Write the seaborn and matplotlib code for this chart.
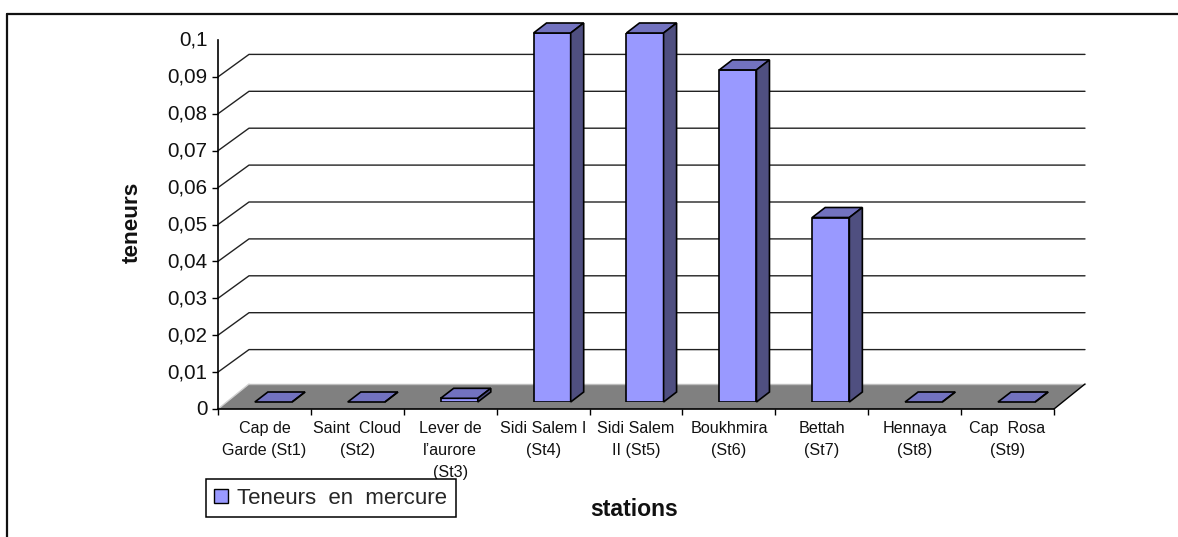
import numpy as np
import matplotlib
matplotlib.use("Agg")
import matplotlib.pyplot as plt
from matplotlib.patches import Patch, Polygon
from matplotlib.transforms import ScaledTranslation
import seaborn as sns

# Mercury content per sampling station
stations = ["Cap de\nGarde (St1)", "Saint  Cloud\n(St2)", "Lever de\nl\u2019aurore\n(St3)",
            "Sidi Salem I\n(St4)", "Sidi Salem\nII (St5)", "Boukhmira\n(St6)",
            "Bettah\n(St7)", "Hennaya\n(St8)", "Cap  Rosa\n(St9)"]
teneurs = [0, 0, 0.001, 0.1, 0.1, 0.09, 0.05, 0, 0]
y_ticks = [0, 0.01, 0.02, 0.03, 0.04, 0.05, 0.06, 0.07, 0.08, 0.09, 0.1]
y_labels = ["0", "0,01", "0,02", "0,03", "0,04", "0,05", "0,06", "0,07", "0,08", "0,09", "0,1"]

FRONT = "#9999FF"
TOP = "#7272BF"
SIDE = "#4F4F80"

W, H = 1178, 537
sns.set_style("white")
plt.rcParams["font.family"] = ["Liberation Sans", "DejaVu Sans"]
fig = plt.figure(figsize=(W / 100, H / 100), dpi=100, facecolor="white")


def pixel_axes(x0, x1, y_bottom, y_top, **kw):
    return fig.add_axes([x0 / W, 1 - y_bottom / H, (x1 - x0) / W, (y_bottom - y_top) / H], **kw)


# Pseudo-3D box: front plane, back wall shift, and per-unit vertical scale
fx0, fx1, fy0, fy1 = 218, 1054, 409, 40
wall_dx, wall_dy, floor_dy = 31, 22.5, 25
scale = (fy0 - fy1) / 0.1

canvas = pixel_axes(0, W, H, 0, zorder=0)
canvas.set_xlim(0, W)
canvas.set_ylim(H, 0)
canvas.axis("off")

# Outer frame: only the top and left edges are drawn
canvas.plot([7, W], [14, 14], color="#111111", lw=1.6, clip_on=False)
canvas.plot([7, 7], [14, H], color="#111111", lw=1.6, clip_on=False)

# Floor
canvas.add_patch(Polygon([(fx0, fy0), (fx0 + wall_dx, fy0 - floor_dy),
                          (fx1 + wall_dx, fy0 - floor_dy), (fx1, fy0)],
                         facecolor="#808080", edgecolor="none"))
canvas.plot([fx0 + wall_dx, fx1 + wall_dx], [fy0 - floor_dy] * 2, color="#BDBDBD", lw=1)
canvas.plot([fx0, fx0 + wall_dx], [fy0, fy0 - floor_dy], color="#D0D0D0", lw=1)
canvas.plot([fx1, fx1 + wall_dx], [fy0, fy0 - floor_dy], color="black", lw=1)

# Wall gridlines with their slanted run on the side wall
for v in y_ticks[1:-1]:
    py = fy0 - v * scale
    canvas.plot([fx0, fx0 + wall_dx, fx1 + wall_dx], [py, py - wall_dy, py - wall_dy],
                color="#222222", lw=1.0)

# Bars: the front faces come from seaborn, depth faces are derived from each bar
bar_dx, bar_dy = 9, 7
bars = pixel_axes(fx0 + bar_dx, fx1 + bar_dx, fy0 - bar_dy, fy1 - bar_dy, zorder=1)
bars.patch.set_alpha(0)
sns.barplot(x=list(range(len(stations))), y=teneurs, ax=bars, color=FRONT, saturation=1,
            width=0.4, edgecolor="black", linewidth=1.2, zorder=3)
bars.set_xlim(-0.5, len(stations) - 0.5)
bars.set_ylim(0, 0.1)
bars.axis("off")

depth_x = 13 / ((fx1 - fx0) / len(stations))
depth_y = 10 / scale
for rect in list(bars.patches):
    x0, x1 = rect.get_x(), rect.get_x() + rect.get_width()
    h = rect.get_height()
    bars.add_patch(Polygon([(x0, h), (x1, h), (x1 + depth_x, h + depth_y), (x0 + depth_x, h + depth_y)],
                           facecolor=TOP, edgecolor="black", lw=1.2, clip_on=False, zorder=3))
    bars.add_patch(Polygon([(x1, 0), (x1 + depth_x, depth_y), (x1 + depth_x, h + depth_y), (x1, h)],
                           facecolor=SIDE, edgecolor="black", lw=1.2, clip_on=False, zorder=3))

# Front axes carrying ticks and labels
front = pixel_axes(fx0, fx1, fy0, fy1, zorder=2)
front.patch.set_alpha(0)
front.set_xlim(-0.5, len(stations) - 0.5)
front.set_ylim(0, 0.1)
for name in ("top", "right"):
    front.spines[name].set_visible(False)
for name in ("left", "bottom"):
    front.spines[name].set_linewidth(1.2)
    front.spines[name].set_color("black")

front.set_yticks(y_ticks)
front.set_yticklabels(y_labels, fontsize=14.8, color="#111111")
front.tick_params(axis="y", which="major", left=True, length=4.5, width=1, pad=3, color="black")
front.yaxis.get_major_ticks()[-1].tick1line.set_visible(False)
# Raise the value labels slightly above their ticks
raise_labels = ScaledTranslation(0, 1.5 / 100, fig.dpi_scale_trans)
for lab in front.get_yticklabels():
    lab.set_transform(lab.get_transform() + raise_labels)

front.set_xticks(range(len(stations)))
front.set_xticklabels(stations, fontsize=11.6, color="#111111", linespacing=1.6, ma="center")
front.set_xticks(np.arange(len(stations) + 1) - 0.5, minor=True)
front.tick_params(axis="x", which="major", bottom=False, length=0, pad=8.5)
front.tick_params(axis="x", which="minor", bottom=True, length=4.5, width=1, color="black")

fig.text(132 / W, 1 - 222 / H, "teneurs", rotation=90, ha="center", va="center",
         fontsize=16.2, fontweight="bold", color="#111111")
fig.text(634 / W, 1 - 510 / H, "stations", ha="center", va="center",
         fontsize=16.6, fontweight="bold", color="#111111")

# Legend box overlapping the bottom of the category labels
leg = fig.legend(handles=[Patch(facecolor=FRONT, edgecolor="black", lw=1, label="Teneurs  en  mercure")],
                 loc="lower left", bbox_to_anchor=(206 / W, 1 - 517 / H), borderaxespad=0,
                 fontsize=16, frameon=True, fancybox=False, framealpha=1, edgecolor="black",
                 handlelength=0.62, handleheight=0.62, handletextpad=0.4, borderpad=0.38)
leg.get_frame().set_linewidth(1.1)

fig.savefig("out.png", dpi=100, facecolor="white")
